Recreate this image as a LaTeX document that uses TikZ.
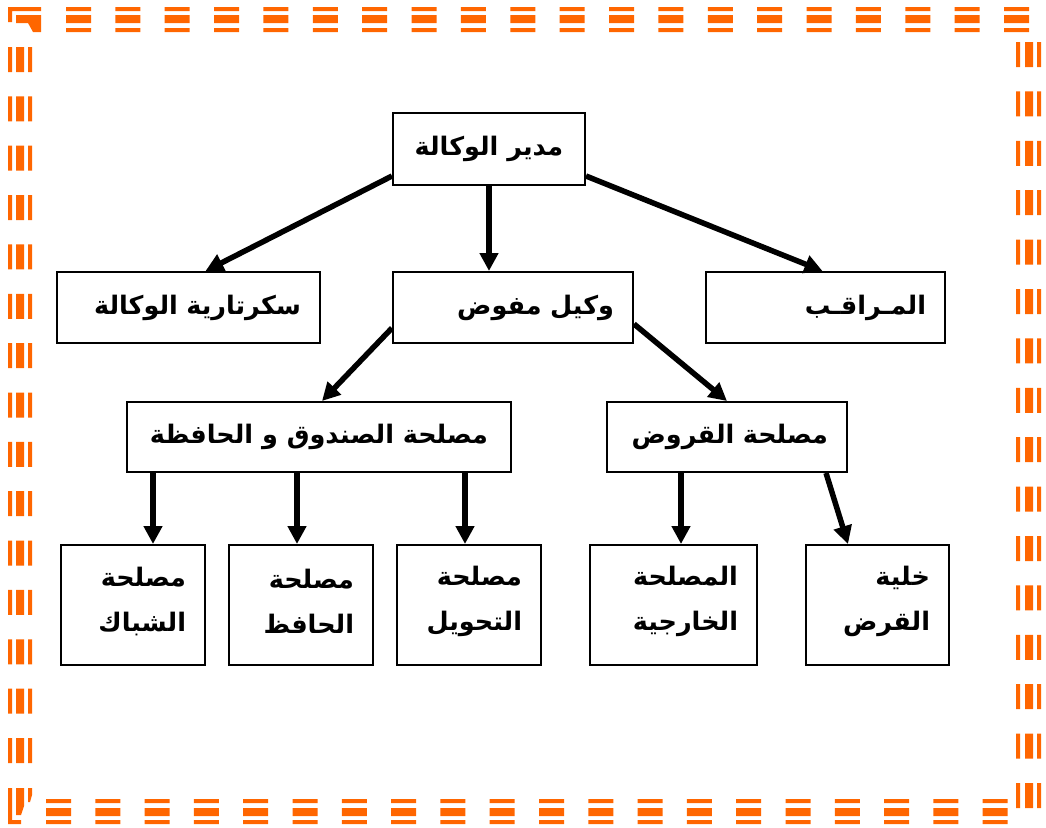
\documentclass[tikz,border=0pt]{standalone}
\usepackage{fontspec}
\newfontfamily\arabicfont[Script=Arabic]{DejaVu Sans}
\TeXXeTstate=1
\usetikzlibrary{arrows.meta}
\definecolor{bord}{HTML}{FF6600}
\newcommand\rtl[1]{\beginR #1\endR}
\tikzset{
  box/.style={draw, line width=2pt, minimum height=71pt, inner ysep=0pt,
    font=\arabicfont\bfseries\fontsize{25.5}{45}\selectfont},
  cbox/.style={box, align=center},
  rbox/.style={box, align=right, inner xsep=19pt, text width=#1},
  tbox/.style={rbox=#1, minimum height=120pt, text height=12pt},
  arr/.style={line width=5.5pt, -{Triangle[length=18pt,width=18pt]}},
  orn/.style={fill=bord, draw=none},
}
\begin{document}
\begin{tikzpicture}[x=1pt,y=-1pt]
\useasboundingbox (0,0) rectangle (1046,827);
% ---- border ----
\foreach \i in {0,...,19} {
  \pgfmathsetmacro\xx{66+49.37*\i}
  \fill[orn] (\xx,7) rectangle ++(25,4) (\xx,15) rectangle ++(25,8) (\xx,28) rectangle ++(25,4);
}
\foreach \i in {0,...,19} {
  \pgfmathsetmacro\xx{46+49.3*\i}
  \fill[orn] (\xx,799) rectangle ++(25,4) (\xx,808) rectangle ++(25,8) (\xx,820) rectangle ++(25,4);
}
\foreach \i in {0,...,14} {
  \pgfmathsetmacro\yy{47+49.36*\i}
  \fill[orn] (8,\yy) rectangle ++(4,25) (16,\yy) rectangle ++(8,25) (28,\yy) rectangle ++(4,25);
}
\foreach \i in {0,...,15} {
  \pgfmathsetmacro\yy{42+49.4*\i}
  \fill[orn] (1016,\yy) rectangle ++(4,25) (1025,\yy) rectangle ++(8,25) (1037,\yy) rectangle ++(4,25);
}
% corners
\fill[orn] (8,7) -- (41,7) -- (41,11) -- (12,11) -- (12,22) -- (8,22) -- cycle;
\fill[orn] (16,15) -- (41,15) -- (41,32) -- (33,32) -- (28,23) -- (16,23) -- cycle;
\fill[orn] (8,788) -- (12,788) -- (12,820) -- (21,820) -- (21,824) -- (8,824) -- cycle;
\fill[orn] (16,788) -- (24,788) -- (24,806) -- (21,815) -- (16,815) -- cycle;
\fill[orn] (28,788) -- (32,788) -- (32,795) -- (30,802) -- (28,802) -- cycle;
% ---- nodes ----
\node[cbox, minimum width=192pt, minimum height=72pt] (dir) at (489,149) {\rtl{مدير الوكالة}};
\node[rbox=225pt] (sec) at (188.5,307.5) {\rtl{سكرتارية الوكالة}};
\node[rbox=202pt] (wak) at (513,307.5) {\rtl{وكيل مفوض}};
\node[rbox=201pt] (mur) at (825.5,307.5) {\rtl{المـراقـب}};
\node[cbox, minimum width=384pt, minimum height=70pt] (sun) at (319,437) {\rtl{مصلحة الصندوق و الحافظة}};
\node[rbox=202pt, minimum height=70pt] (qur) at (727,437) {\rtl{مصلحة القروض}};
\node[tbox=106pt] (b1) at (133,605) {\rtl{مصلحة}\\\rtl{الشباك}};
\node[tbox=106pt] (b2) at (301,605) {\rtl{مصلحة}\\\rtl{الحافظ}};
\node[tbox=106pt] (b3) at (469,605) {\rtl{مصلحة}\\\rtl{التحويل}};
\node[tbox=129pt] (b4) at (673.5,605) {\rtl{المصلحة}\\\rtl{الخارجية}};
\node[tbox=105pt] (b5) at (877.5,605) {\rtl{خلية}\\\rtl{القرض}};
% ---- connectors ----
\coordinate (t1) at ([xshift=20pt]b1.north);
\coordinate (t2) at ([xshift=-4pt]b2.north);
\coordinate (t3) at ([xshift=-4pt]b3.north);
\coordinate (t4) at ([xshift=7.5pt]b4.north);
\draw[arr] ([yshift=10pt]dir.south west) -- ([xshift=17pt]sec.north);
\draw[arr] (dir.south) -- (dir.south |- wak.north);
\draw[arr] ([yshift=10pt]dir.south east) -- ([xshift=-3pt]mur.north);
\draw[arr] ([yshift=16pt]wak.south west) -- ([xshift=3pt]sun.north);
\draw[arr] ([yshift=20pt]wak.south east) -- (qur.north);
\draw[arr] (t1 |- sun.south) -- (t1);
\draw[arr] (t2 |- sun.south) -- (t2);
\draw[arr] (t3 |- sun.south) -- (t3);
\draw[arr] (t4 |- qur.south) -- (t4);
\draw[arr] ([xshift=99pt]qur.south) -- ([xshift=-29.5pt]b5.north);
\end{tikzpicture}
\end{document}
